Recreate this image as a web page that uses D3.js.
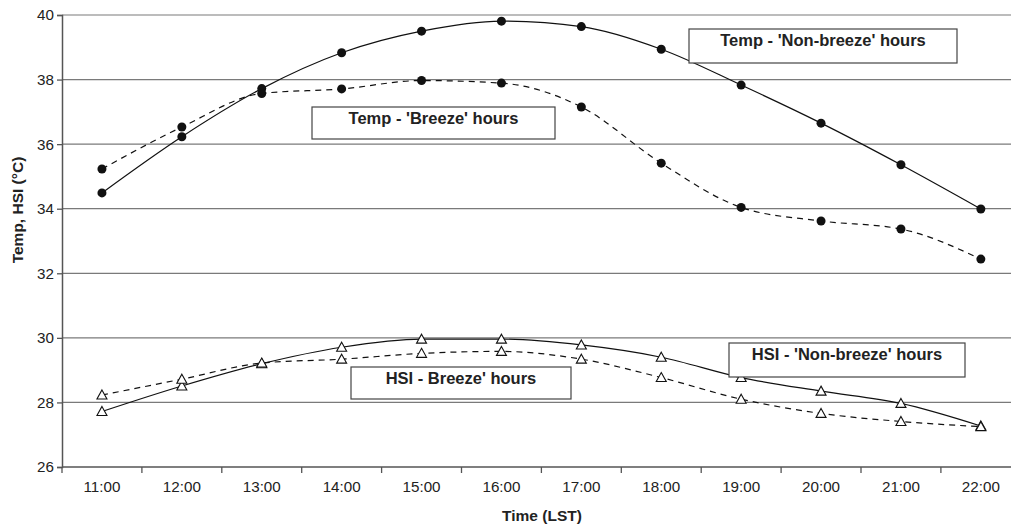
<!DOCTYPE html>
<html><head><meta charset="utf-8">
<script src="https://cdn.jsdelivr.net/npm/d3@7"></script>
<style>body{margin:0;background:#fff}svg{display:block}</style>
</head><body>
<svg id="c" width="1011" height="527"></svg>
<script>
const hours = ["11:00","12:00","13:00","14:00","15:00","16:00","17:00","18:00","19:00","20:00","21:00","22:00"];
const yTicks = [26,28,30,32,34,36,38,40];
const tempNonBreeze = [34.49,36.23,37.72,38.83,39.50,39.81,39.64,38.94,37.83,36.65,35.36,33.99];
const tempBreeze    = [35.23,36.53,37.57,37.71,37.97,37.89,37.15,35.41,34.04,33.62,33.37,32.44];
const hsiNonBreeze  = [27.72,28.51,29.20,29.71,29.96,29.96,29.78,29.40,28.77,28.35,27.97,27.27];
const hsiBreeze     = [28.23,28.72,29.22,29.34,29.52,29.58,29.34,28.77,28.10,27.66,27.41,27.25];
const labelTexts = ["Temp - 'Non-breeze' hours","Temp - 'Breeze' hours","HSI - Breeze' hours","HSI - 'Non-breeze' hours"];

const svg = d3.select("#c");
const L = 62, T = 15, B = 467, bw = 79.9;
const FONT = "Liberation Sans, Arial, sans-serif";
const x = d3.scaleBand().domain(hours).range([L, L + bw*hours.length]);
const xc = h => x(h) + x.bandwidth()/2;
const y = d3.scaleLinear().domain([26,40]).range([B, T]);
const W = L + bw*hours.length;

// gridlines
svg.append("g").selectAll("line").data(yTicks.filter(d=>d>26)).join("line")
  .attr("x1", L).attr("x2", W).attr("y1", d=>y(d)).attr("y2", d=>y(d))
  .attr("stroke", "#7a7a7a").attr("stroke-width", 1.2);

// axes
const yAxis = svg.append("g").attr("transform", `translate(${L},0)`)
  .call(d3.axisLeft(y).tickValues(yTicks).tickSize(5).tickPadding(3).tickFormat(d3.format("d")));
const xAxis = svg.append("g").attr("transform", `translate(0,${B})`)
  .call(d3.axisBottom(x).tickSize(0).tickPadding(14));
svg.append("g").selectAll("line").data(hours).join("line")
  .attr("x1", d=>x(d)).attr("x2", d=>x(d)).attr("y1", B).attr("y2", B+6)
  .attr("stroke", "#555").attr("stroke-width", 1.3);
[yAxis, xAxis].forEach(g => {
  g.select(".domain").attr("stroke", "#555").attr("stroke-width", 1.5);
  g.selectAll(".tick line").attr("stroke", "#555").attr("stroke-width", 1.3);
  g.selectAll("text").attr("font-family", FONT).attr("font-size", 15.2).attr("fill", "#222");
});
xAxis.select(".domain").attr("d", `M${L},0H${W}`);

// axis titles
svg.append("text").attr("x", 542).attr("y", 521).attr("text-anchor","middle")
  .attr("font-family",FONT).attr("font-weight","bold")
  .attr("font-size", 15.5).attr("fill","#222").text("Time (LST)");
svg.append("text").attr("transform","translate(23,210) rotate(-90)").attr("text-anchor","middle")
  .attr("font-family",FONT).attr("font-weight","bold")
  .attr("font-size", 15.5).attr("fill","#222").text("Temp, HSI (°C)");

const line = d3.line().x((d,i)=>xc(hours[i])).y(d=>y(d)).curve(d3.curveMonotoneX);
const series = [
  {data: tempNonBreeze, dash: null, marker: "circle"},
  {data: tempBreeze, dash: "6,5", marker: "circle"},
  {data: hsiNonBreeze, dash: null, marker: "tri"},
  {data: hsiBreeze, dash: "6,5", marker: "tri"}
];
series.forEach(s => {
  svg.append("path").attr("d", line(s.data)).attr("fill","none").attr("stroke","#111")
    .attr("stroke-width", 1.2).attr("stroke-dasharray", s.dash);
});
series.forEach(s => {
  const g = svg.append("g");
  if (s.marker === "circle") {
    g.selectAll("circle").data(s.data).join("circle")
      .attr("cx",(d,i)=>xc(hours[i])).attr("cy", d=>y(d)).attr("r", 4.5).attr("fill","#111");
  } else {
    g.selectAll("path").data(s.data).join("path")
      .attr("transform",(d,i)=>`translate(${xc(hours[i])},${y(d)})`)
      .attr("d","M0,-5L5,4L-5,4Z").attr("fill","#fff").attr("stroke","#111").attr("stroke-width",1.1);
  }
});

// label boxes
const boxes = [
  {i:0, cx:823, top:29, h:34, w:268},
  {i:1, cx:433.5, top:107, h:32, w:243},
  {i:2, cx:461, top:367, h:32, w:220},
  {i:3, cx:847, top:343, h:34, w:236}
];
boxes.forEach(b => {
  svg.append("rect").attr("x", b.cx - b.w/2).attr("y", b.top).attr("width", b.w).attr("height", b.h)
    .attr("fill","#fff").attr("stroke","#444").attr("stroke-width",1.2);
  svg.append("text").attr("x", b.cx).attr("y", b.top + 16.5)
    .attr("font-family",FONT).attr("font-weight","bold")
    .attr("font-size", 16.5).attr("fill","#222").attr("text-anchor","middle").text(labelTexts[b.i]);
});
</script>
</body></html>
